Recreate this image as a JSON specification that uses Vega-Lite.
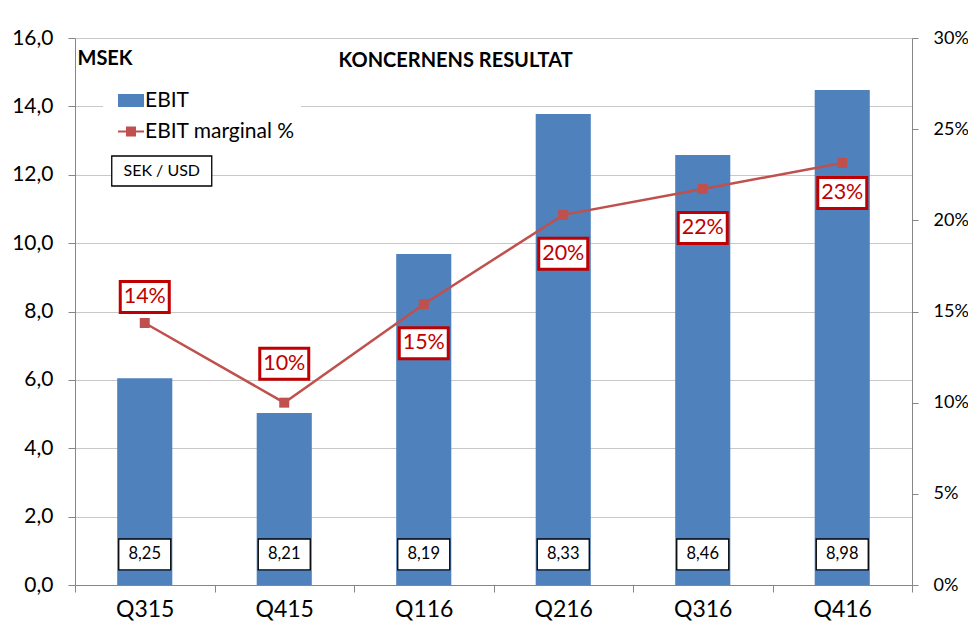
{
  "$schema": "https://vega.github.io/schema/vega-lite/v6.json",
  "width": 837,
  "height": 547,
  "autosize": {"type": "none"},
  "padding": {"left": 75, "top": 38, "right": 56, "bottom": 43},
  "background": "white",
  "data": {
    "values": [
      {"q": "Q315", "ebit": 6.05, "margin": 14.37, "label": "14%", "fx": "8,25"},
      {"q": "Q415", "ebit": 5.03, "margin": 10.0, "label": "10%", "fx": "8,21"},
      {"q": "Q116", "ebit": 9.68, "margin": 15.4, "label": "15%", "fx": "8,19"},
      {"q": "Q216", "ebit": 13.78, "margin": 20.3, "label": "20%", "fx": "8,33"},
      {"q": "Q316", "ebit": 12.58, "margin": 21.72, "label": "22%", "fx": "8,46"},
      {"q": "Q416", "ebit": 14.48, "margin": 23.15, "label": "23%", "fx": "8,98"}
    ]
  },
  "layer": [
    {
      "encoding": {
        "x": {
          "field": "q", "type": "nominal", "sort": null,
          "scale": {"paddingInner": 0, "paddingOuter": 0},
          "axis": {"title": null, "labelAngle": 0, "labelFontSize": 23, "labelPadding": 6, "tickBand": "extent", "tickSize": 7, "grid": false}
        },
        "y": {
          "field": "ebit", "type": "quantitative", "title": "MSEK",
          "scale": {"domain": [0, 16], "nice": false, "zero": true},
          "axis": {
            "values": [0, 2, 4, 6, 8, 10, 12, 14, 16],
            "labelExpr": "replace(format(datum.value, '.1f'), '.', ',')",
            "grid": true, "gridColor": "#C8C8C8", "tickSize": 7, "labelPadding": 15, "labelFontSize": 21,
            "titleAngle": 0, "titleX": 2, "titleY": 26, "titleAlign": "left", "titleBaseline": "alphabetic",
            "titleFontSize": 20, "titleFontWeight": "bold"
          }
        }
      },
      "layer": [
        {"mark": {"type": "bar", "color": "#4F81BD", "width": {"band": 0.395}}},
        {
          "mark": {"type": "bar", "width": 52, "fill": "white", "stroke": "black", "strokeWidth": 1.3},
          "encoding": {"y": {"datum": 0.44}, "y2": {"datum": 1.345}}
        },
        {
          "mark": {"type": "text", "fontSize": 16.5, "color": "black", "baseline": "middle"},
          "encoding": {"y": {"datum": 0.9}, "text": {"field": "fx"}}
        },
        {
          "transform": [{"filter": "datum.q == 'Q315'"}],
          "mark": {"type": "point", "shape": "M-1,-0.3H1V0.3H-1Z", "size": 10000, "filled": true, "fill": "white", "stroke": "black", "strokeWidth": 1.3, "opacity": 1, "xOffset": 17},
          "encoding": {"y": {"datum": 12.11}}
        },
        {
          "transform": [{"filter": "datum.q == 'Q315'"}],
          "mark": {"type": "text", "text": "SEK / USD", "fontSize": 16, "color": "black", "baseline": "middle", "xOffset": 17},
          "encoding": {"y": {"datum": 12.11}}
        },
        {
          "transform": [{"fold": ["ebit", "margin"], "as": ["series", "val"]}],
          "mark": {"type": "point", "filled": true, "opacity": 0},
          "encoding": {
            "y": {"datum": 0},
            "color": {
              "field": "series", "type": "nominal",
              "scale": {"domain": ["ebit", "margin"], "range": ["#4F81BD", "#C0504D"]},
              "legend": {
                "orient": "none", "legendX": 28, "legendY": 46, "title": null, "fillColor": "white", "padding": 6,
                "symbolOffset": 11.5, "labelOffset": 3.5, "labelFontSize": 21, "labelColor": "black", "rowPadding": 9,
                "symbolSize": 169, "symbolStrokeWidth": 0, "symbolOpacity": 1, "labelLimit": 400,
                "labelExpr": "datum.label == 'ebit' ? 'EBIT' : 'EBIT marginal %'"
              }
            },
            "shape": {
              "field": "series", "type": "nominal",
              "scale": {"domain": ["ebit", "margin"], "range": ["M-2,-1H2V1H-2Z", "M-2,-0.15H2V0.15H-2Z M-0.77,-0.77H0.77V0.77H-0.77Z"]},
              "legend": {
                "orient": "none", "legendX": 28, "legendY": 46, "title": null, "fillColor": "white", "padding": 6,
                "symbolOffset": 11.5, "labelOffset": 3.5, "labelFontSize": 21, "labelColor": "black", "rowPadding": 9,
                "symbolSize": 169, "symbolStrokeWidth": 0, "symbolOpacity": 1, "labelLimit": 400,
                "labelExpr": "datum.label == 'ebit' ? 'EBIT' : 'EBIT marginal %'"
              }
            }
          }
        }
      ]
    },
    {
      "encoding": {
        "x": {
          "field": "q", "type": "nominal", "sort": null,
          "scale": {"paddingInner": 0, "paddingOuter": 0},
          "axis": {"title": null, "labelAngle": 0, "labelFontSize": 23, "labelPadding": 6, "tickBand": "extent", "tickSize": 7, "grid": false}
        },
        "y": {
          "field": "margin", "type": "quantitative", "title": "KONCERNENS RESULTAT",
          "scale": {"domain": [0, 30], "nice": false, "zero": true},
          "axis": {
            "orient": "right", "values": [0, 5, 10, 15, 20, 25, 30],
            "labelExpr": "datum.value + '%'", "grid": false, "tickSize": 6, "labelPadding": 15, "labelFontSize": 18,
            "titleAngle": 0, "titleX": -574, "titleY": 28, "titleAlign": "left", "titleBaseline": "alphabetic",
            "titleFontSize": 20, "titleFontWeight": "bold"
          }
        }
      },
      "layer": [
        {"mark": {"type": "line", "color": "#C0504D", "strokeWidth": 2.5}},
        {"mark": {"type": "point", "shape": "square", "size": 100, "filled": true, "color": "#C0504D", "opacity": 1}},
        {
          "transform": [{"filter": "datum.q == 'Q315'"}],
          "layer": [
            {"mark": {"type": "point", "shape": "M-1,-0.633H1V0.633H-1Z", "size": 2401, "filled": true, "fill": "white", "stroke": "#C00000", "strokeWidth": 3, "opacity": 1, "yOffset": -26}},
            {"mark": {"type": "text", "fontSize": 21.5, "color": "#C00000", "baseline": "middle", "yOffset": -26}, "encoding": {"text": {"field": "label"}}}
          ]
        },
        {
          "transform": [{"filter": "datum.q == 'Q415'"}],
          "layer": [
            {"mark": {"type": "point", "shape": "M-1,-0.633H1V0.633H-1Z", "size": 2401, "filled": true, "fill": "white", "stroke": "#C00000", "strokeWidth": 3, "opacity": 1, "yOffset": -39}},
            {"mark": {"type": "text", "fontSize": 21.5, "color": "#C00000", "baseline": "middle", "yOffset": -39}, "encoding": {"text": {"field": "label"}}}
          ]
        },
        {
          "transform": [{"filter": "datum.q == 'Q116' || datum.q == 'Q216' || datum.q == 'Q316'"}],
          "layer": [
            {"mark": {"type": "point", "shape": "M-1,-0.633H1V0.633H-1Z", "size": 2401, "filled": true, "fill": "white", "stroke": "#C00000", "strokeWidth": 3, "opacity": 1, "yOffset": 39}},
            {"mark": {"type": "text", "fontSize": 21.5, "color": "#C00000", "baseline": "middle", "yOffset": 39}, "encoding": {"text": {"field": "label"}}}
          ]
        },
        {
          "transform": [{"filter": "datum.q == 'Q416'"}],
          "layer": [
            {"mark": {"type": "point", "shape": "M-1,-0.633H1V0.633H-1Z", "size": 2401, "filled": true, "fill": "white", "stroke": "#C00000", "strokeWidth": 3, "opacity": 1, "yOffset": 30}},
            {"mark": {"type": "text", "fontSize": 21.5, "color": "#C00000", "baseline": "middle", "yOffset": 30}, "encoding": {"text": {"field": "label"}}}
          ]
        }
      ]
    }
  ],
  "resolve": {"scale": {"y": "independent"}},
  "config": {
    "font": "Lato",
    "view": {"stroke": null},
    "axis": {
      "labelColor": "black", "titleColor": "black", "labelFont": "Lato", "titleFont": "Lato",
      "domainColor": "#868686", "tickColor": "#868686", "domainWidth": 1, "tickWidth": 1
    },
    "legend": {"labelFont": "Lato"}
  }
}
